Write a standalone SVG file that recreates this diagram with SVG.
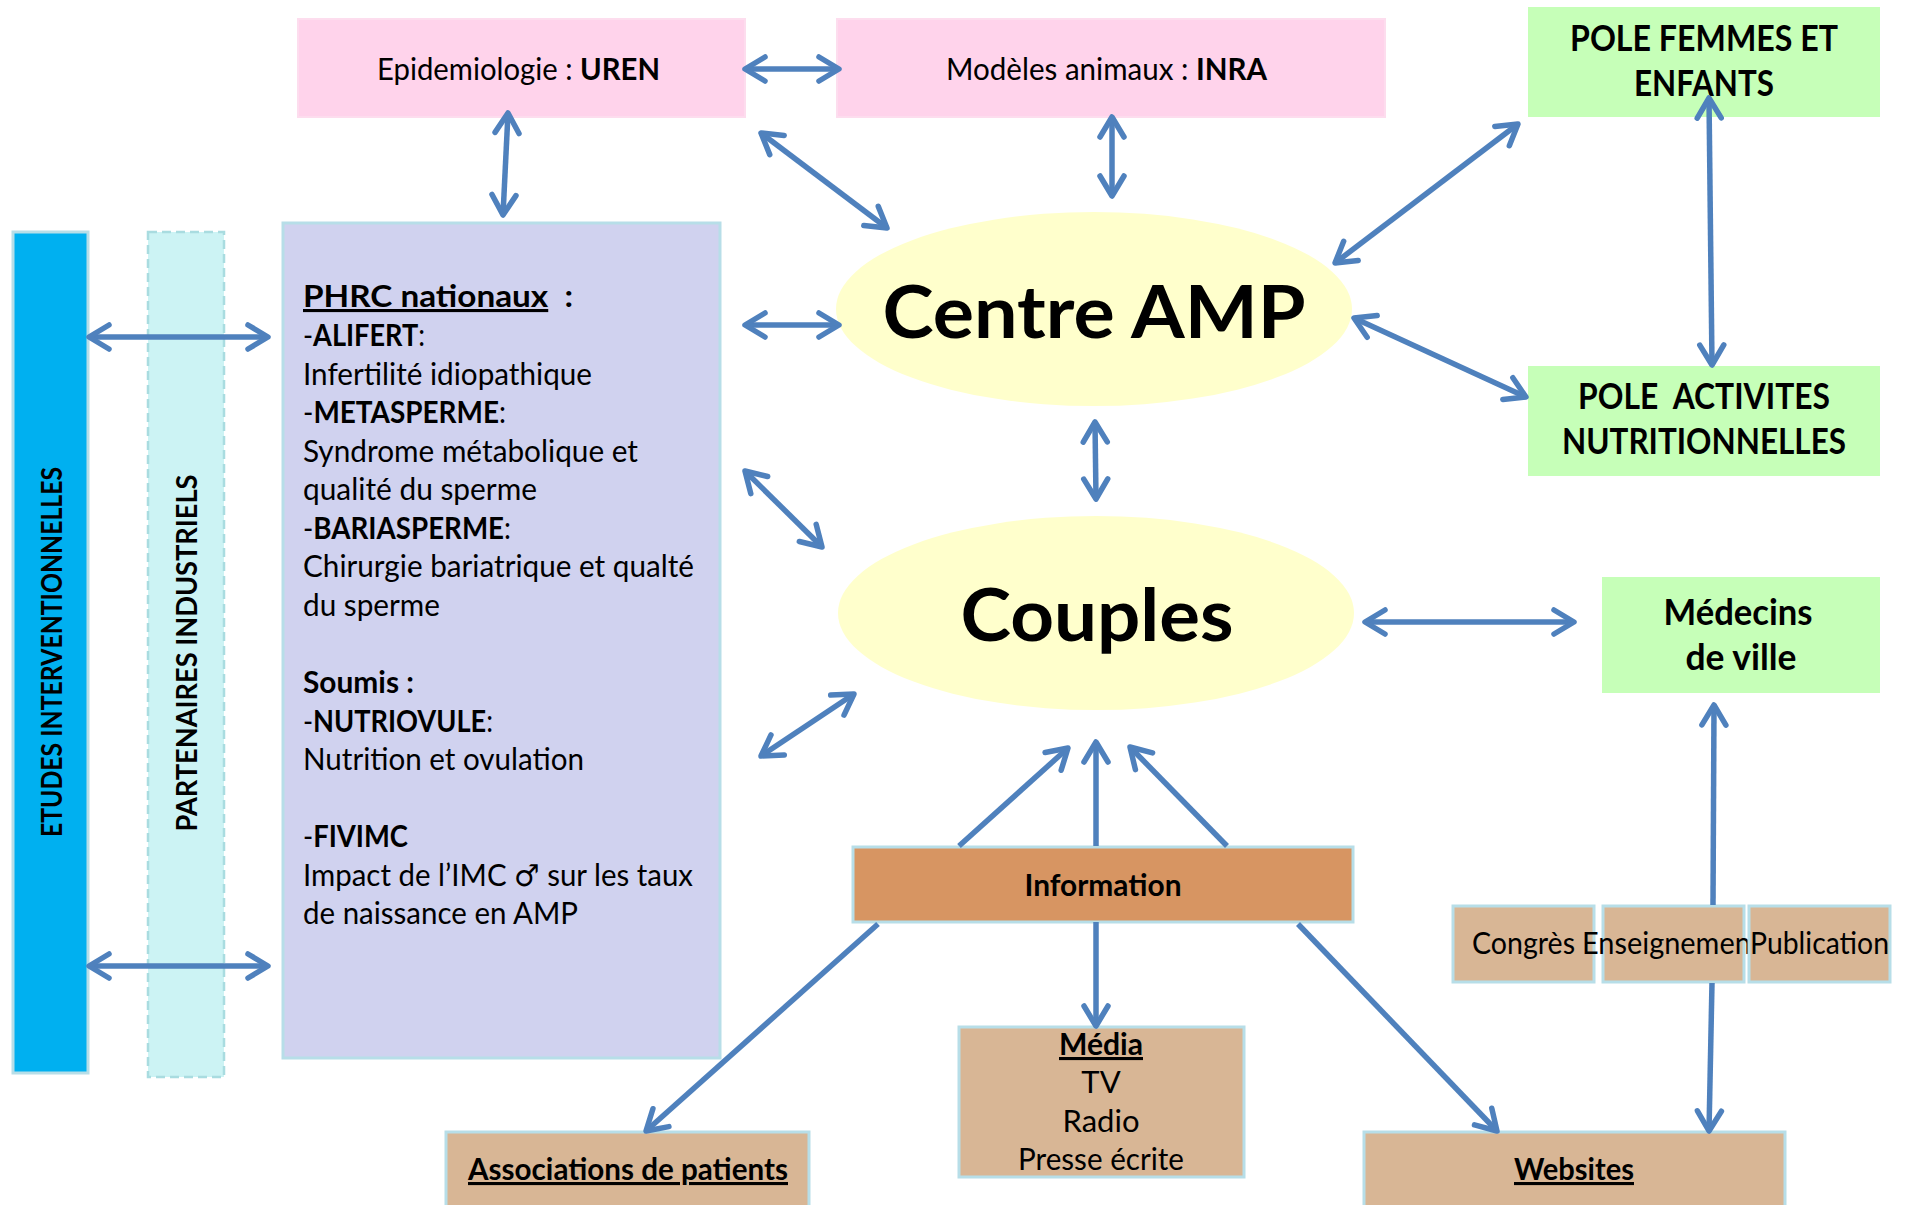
<svg xmlns="http://www.w3.org/2000/svg" width="1910" height="1205" viewBox="0 0 1910 1205">
<defs>
<style>
text { font-family: Lato, "Open Sans", "Liberation Sans", "DejaVu Sans", sans-serif; fill:#000; font-size:31px; }
text.s36 { font-size:36px; }
text.s74 { font-size:72px; }
text.s29 { font-size:29px; }
.b { font-weight:bold; }
.u { text-decoration: underline; }
.sym { font-family: "DejaVu Sans", sans-serif; font-size:30px; }
.pink { fill:#FFD3EB; stroke:#FDDDEE; stroke-width:2; }
.green { fill:#C6FFB8; }
.ell { fill:#FFFFCC; }
.lav { fill:#D0D2EF; stroke:#B7DEE8; stroke-width:3; }
.brown { fill:#D8B695; stroke:#B7DEE8; stroke-width:3; }
.info { fill:#D79562; stroke:#B7DEE8; stroke-width:3; }
.etudes { fill:#00B0F0; stroke:#B7DEE8; stroke-width:3; }
.part { fill:#CCF3F4; stroke:#A9DCE0; stroke-width:2.5; stroke-dasharray:9 5; }
.conn line { fill:none; stroke:#4F81BD; stroke-width:5.5; }
.two { marker-start:url(#ah); marker-end:url(#ah); }
.one { marker-end:url(#ah); }
</style>
<marker id="ah" markerUnits="userSpaceOnUse" markerWidth="50" markerHeight="50" viewBox="-30 -25 50 50" refX="0" refY="0" orient="auto-start-reverse" overflow="visible">
<path d="M-20,-12 L0,0 L-20,12" fill="none" stroke="#4F81BD" stroke-width="5.5" stroke-linecap="round" stroke-linejoin="round"/>
</marker>
</defs>
<rect width="1910" height="1205" fill="#FFFFFF"/>

<g id="nodes">
<g id="epidemiologie">
<rect class="pink" x="298" y="19" width="447" height="98"/>
<text x="377" y="80" textLength="283" lengthAdjust="spacingAndGlyphs">Epidemiologie : <tspan class="b">UREN</tspan></text>
</g>
<g id="modeles">
<rect class="pink" x="837" y="19" width="548" height="98"/>
<text x="946" y="80" textLength="321" lengthAdjust="spacingAndGlyphs">Modèles animaux : <tspan class="b">INRA</tspan></text>
</g>
<g id="pole-femmes">
<rect class="green" x="1528" y="7" width="352" height="110"/>
<text class="b s36" x="1704" y="51" text-anchor="middle" textLength="268" lengthAdjust="spacingAndGlyphs">POLE FEMMES ET</text>
<text class="b s36" x="1704" y="96" text-anchor="middle" textLength="140" lengthAdjust="spacingAndGlyphs">ENFANTS</text>
</g>
<g id="pole-activites">
<rect class="green" x="1528" y="366" width="352" height="110"/>
<text class="b s36" x="1704" y="409" text-anchor="middle" textLength="252" lengthAdjust="spacingAndGlyphs">POLE &#160;ACTIVITES</text>
<text class="b s36" x="1704" y="454" text-anchor="middle" textLength="284" lengthAdjust="spacingAndGlyphs">NUTRITIONNELLES</text>
</g>
<g id="centre-amp">
<ellipse class="ell" cx="1094" cy="309" rx="258" ry="97"/>
<text class="b s74" x="1094" y="338" text-anchor="middle" textLength="423" lengthAdjust="spacingAndGlyphs">Centre AMP</text>
</g>
<g id="couples">
<ellipse class="ell" cx="1096" cy="613" rx="258" ry="97"/>
<text class="b s74" x="1097" y="641" text-anchor="middle" textLength="273" lengthAdjust="spacingAndGlyphs">Couples</text>
</g>
<g id="medecins">
<rect class="green" x="1602" y="577" width="278" height="116"/>
<text class="b s36" x="1738" y="625" text-anchor="middle" textLength="149" lengthAdjust="spacingAndGlyphs">Médecins</text>
<text class="b s36" x="1741" y="670" text-anchor="middle" textLength="111" lengthAdjust="spacingAndGlyphs">de ville</text>
</g>
<g id="etudes">
<rect class="etudes" x="13" y="232" width="75" height="841"/>
<text class="b s29" transform="translate(62,652) rotate(-90)" text-anchor="middle" textLength="370" lengthAdjust="spacingAndGlyphs">ETUDES INTERVENTIONNELLES</text>
</g>
<g id="partenaires">
<rect class="part" x="148" y="232" width="76" height="845"/>
<text class="b s29" transform="translate(197,653) rotate(-90)" text-anchor="middle" textLength="357" lengthAdjust="spacingAndGlyphs">PARTENAIRES INDUSTRIELS</text>
</g>
<g id="phrc">
<rect class="lav" x="283" y="223" width="437" height="835"/>
<text x="303" y="307" textLength="270" lengthAdjust="spacingAndGlyphs"><tspan class="b u">PHRC nationaux</tspan><tspan class="b"> &#160;:</tspan></text>
<text x="303" y="346" textLength="122" lengthAdjust="spacingAndGlyphs">-<tspan class="b">ALIFERT</tspan>:</text>
<text x="303" y="385" textLength="289" lengthAdjust="spacingAndGlyphs">Infertilité idiopathique</text>
<text x="303" y="423" textLength="203" lengthAdjust="spacingAndGlyphs">-<tspan class="b">METASPERME</tspan>:</text>
<text x="303" y="462" textLength="335" lengthAdjust="spacingAndGlyphs">Syndrome métabolique et</text>
<text x="303" y="500" textLength="234" lengthAdjust="spacingAndGlyphs">qualité du sperme</text>
<text x="303" y="539" textLength="208" lengthAdjust="spacingAndGlyphs">-<tspan class="b">BARIASPERME</tspan>:</text>
<text x="303" y="577" textLength="391" lengthAdjust="spacingAndGlyphs">Chirurgie bariatrique et qualté</text>
<text x="303" y="616" textLength="137" lengthAdjust="spacingAndGlyphs">du sperme</text>
<text class="b" x="303" y="693" textLength="111" lengthAdjust="spacingAndGlyphs">Soumis :</text>
<text x="303" y="732" textLength="190" lengthAdjust="spacingAndGlyphs">-<tspan class="b">NUTRIOVULE</tspan>:</text>
<text x="303" y="770" textLength="281" lengthAdjust="spacingAndGlyphs">Nutrition et ovulation</text>
<text x="303" y="847" textLength="105" lengthAdjust="spacingAndGlyphs">-<tspan class="b">FIVIMC</tspan></text>
<text x="303" y="886" textLength="390" lengthAdjust="spacingAndGlyphs">Impact de l’IMC <tspan class="sym">♂</tspan> sur les taux</text>
<text x="303" y="924" textLength="275" lengthAdjust="spacingAndGlyphs">de naissance en AMP</text>
</g>
<g id="information">
<rect class="info" x="853" y="847" width="500" height="75"/>
<text class="b" x="1103" y="896" text-anchor="middle" textLength="157" lengthAdjust="spacingAndGlyphs">Information</text>
</g>
<g id="media">
<rect class="brown" x="959" y="1027" width="285" height="150"/>
<text class="b u" x="1101" y="1055" text-anchor="middle" textLength="84" lengthAdjust="spacingAndGlyphs">Média</text>
<text x="1101" y="1093" text-anchor="middle">TV</text>
<text x="1101" y="1132" text-anchor="middle">Radio</text>
<text x="1101" y="1170" text-anchor="middle" textLength="166" lengthAdjust="spacingAndGlyphs">Presse écrite</text>
</g>
<g id="associations">
<rect class="brown" x="446" y="1132" width="363" height="90"/>
<text class="b u" x="628" y="1180" text-anchor="middle" textLength="320" lengthAdjust="spacingAndGlyphs">Associations de patients</text>
</g>
<g id="websites">
<rect class="brown" x="1364" y="1132" width="421" height="90"/>
<text class="b u" x="1574" y="1180" text-anchor="middle" textLength="120" lengthAdjust="spacingAndGlyphs">Websites</text>
</g>
<g id="congres">
<rect class="brown" x="1453" y="906" width="141" height="76"/>
<text x="1523.5" y="954" text-anchor="middle" textLength="103" lengthAdjust="spacingAndGlyphs">Congrès</text>
</g>
<g id="enseignement">
<rect class="brown" x="1603" y="906" width="141" height="76"/>
<text x="1582" y="954" textLength="179" lengthAdjust="spacingAndGlyphs">Enseignement</text>
</g>
<g id="publication">
<rect class="brown" x="1749" y="906" width="141" height="76"/>
<text x="1750" y="954" textLength="139" lengthAdjust="spacingAndGlyphs">Publication</text>
</g>
</g>

<g id="connectors" class="conn">
<line class="two" x1="745" y1="69" x2="839" y2="69"/>
<line class="two" x1="508" y1="113" x2="503" y2="215"/>
<line class="two" x1="761" y1="133" x2="887" y2="228"/>
<line class="two" x1="1112" y1="117" x2="1112" y2="196"/>
<line class="two" x1="1335" y1="263" x2="1518" y2="124"/>
<line class="two" x1="1709" y1="98" x2="1712" y2="365"/>
<line class="two" x1="1354" y1="318" x2="1526" y2="397"/>
<line class="two" x1="1095" y1="422" x2="1096" y2="499"/>
<line class="two" x1="745" y1="325" x2="839" y2="325"/>
<line class="two" x1="745" y1="471" x2="822" y2="547"/>
<line class="two" x1="854" y1="694" x2="761" y2="756"/>
<line class="two" x1="1365" y1="622" x2="1574" y2="622"/>
<line class="one" x1="959" y1="846" x2="1068" y2="748"/>
<line class="one" x1="1096" y1="846" x2="1096" y2="742"/>
<line class="one" x1="1227" y1="846" x2="1130" y2="747"/>
<line class="one" x1="1096" y1="922" x2="1096" y2="1026"/>
<line class="one" x1="1298" y1="924" x2="1497" y2="1131"/>
<line class="one" x1="878" y1="924" x2="646" y2="1131"/>
<line class="one" x1="1713" y1="905" x2="1714" y2="705"/>
<line class="one" x1="1712" y1="983" x2="1709" y2="1131"/>
<line class="two" x1="89" y1="337" x2="268" y2="337"/>
<line class="two" x1="89" y1="966" x2="268" y2="966"/>
</g>
</svg>
